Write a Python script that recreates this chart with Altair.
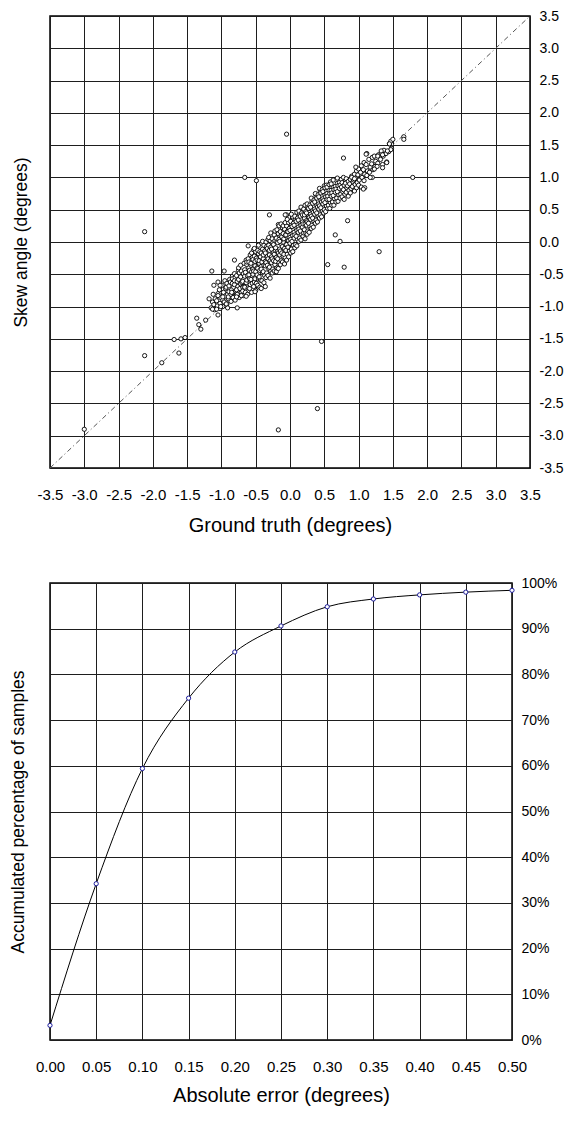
import altair as alt
import pandas as pd

# ---------------- Top panel: skew angle vs ground truth ----------------
# dense cloud (degrees)
cloud_truth = [
    -1.15, -1.13,
    -1.10, -1.09, -1.11,
    -1.06, -1.05, -1.07,
    -1.02, -1.01, -1.03, -1.02,
    -0.98, -0.97, -0.99, -0.98,
    -0.95, -0.94, -0.96, -0.95,
    -0.92, -0.91, -0.93, -0.92, -0.90,
    -0.89, -0.88, -0.90, -0.89,
    -0.86, -0.85, -0.87, -0.86, -0.84,
    -0.83, -0.82, -0.84, -0.83, -0.81, -0.84,
    -0.80, -0.79, -0.81, -0.80, -0.78, -0.81,
    -0.77, -0.76, -0.78, -0.77, -0.75, -0.78,
    -0.74, -0.73, -0.75, -0.74, -0.72, -0.75,
    -0.71, -0.70, -0.72, -0.71, -0.69, -0.72,
    -0.68, -0.67, -0.69, -0.68, -0.66, -0.69, -0.67,
    -0.65, -0.64, -0.66, -0.65, -0.63, -0.66, -0.64,
    -0.62, -0.61, -0.63, -0.62, -0.60, -0.63, -0.61,
    -0.59, -0.58, -0.60, -0.59, -0.57, -0.60, -0.58, -0.59,
    -0.56, -0.55, -0.57, -0.56, -0.54, -0.57, -0.55, -0.56,
    -0.53, -0.52, -0.54, -0.53, -0.51, -0.54, -0.52, -0.53,
    -0.50, -0.49, -0.51, -0.50, -0.48, -0.51, -0.49, -0.50, -0.52,
    -0.47, -0.46, -0.48, -0.47, -0.45, -0.48, -0.46, -0.47,
    -0.44, -0.43, -0.45, -0.44, -0.42, -0.45, -0.43, -0.44, -0.46,
    -0.41, -0.40, -0.42, -0.41, -0.39, -0.42, -0.40, -0.41,
    -0.38, -0.37, -0.39, -0.38, -0.36, -0.39, -0.37, -0.38, -0.40,
    -0.35, -0.34, -0.36, -0.35, -0.33, -0.36, -0.34, -0.35,
    -0.32, -0.31, -0.33, -0.32, -0.30, -0.33, -0.31, -0.32,
    -0.29, -0.28, -0.30, -0.29, -0.27, -0.30, -0.28, -0.29, -0.31,
    -0.26, -0.25, -0.27, -0.26, -0.24, -0.27, -0.25, -0.26, -0.28,
    -0.23, -0.22, -0.24, -0.23, -0.21, -0.24, -0.22, -0.23,
    -0.20, -0.19, -0.21, -0.20, -0.18, -0.21, -0.19, -0.20, -0.22,
    -0.17, -0.16, -0.18, -0.17, -0.15, -0.18, -0.16, -0.17, -0.19, -0.17,
    -0.14, -0.13, -0.15, -0.14, -0.12, -0.15, -0.13, -0.14, -0.16,
    -0.11, -0.10, -0.12, -0.11, -0.09, -0.12, -0.10, -0.11, -0.13,
    -0.08, -0.07, -0.09, -0.08, -0.06, -0.09, -0.07, -0.08, -0.10,
    -0.05, -0.04, -0.06, -0.05, -0.03, -0.06, -0.04, -0.05, -0.07, -0.05,
    -0.02, -0.01, -0.03, -0.02, 0.00, -0.03, -0.01, -0.02, -0.04,
    0.01, 0.02, 0.00, 0.01, 0.03, 0.00, 0.02, 0.01,
    0.04, 0.05, 0.03, 0.04, 0.06, 0.03, 0.05, 0.04, 0.02,
    0.07, 0.08, 0.06, 0.07, 0.09, 0.06, 0.08, 0.07,
    0.10, 0.11, 0.09, 0.10, 0.12, 0.09, 0.11, 0.10,
    0.13, 0.14, 0.12, 0.13, 0.15, 0.12, 0.14, 0.13,
    0.16, 0.17, 0.15, 0.16, 0.18, 0.15, 0.17, 0.16,
    0.19, 0.20, 0.18, 0.19, 0.21, 0.18, 0.20,
    0.22, 0.23, 0.21, 0.22, 0.24, 0.21, 0.23, 0.22,
    0.25, 0.26, 0.24, 0.25, 0.27, 0.24, 0.26, 0.25,
    0.28, 0.29, 0.27, 0.28, 0.30, 0.27, 0.29,
    0.31, 0.32, 0.30, 0.31, 0.33, 0.30, 0.32, 0.31,
    0.34, 0.35, 0.33, 0.34, 0.36, 0.33, 0.35,
    0.37, 0.38, 0.36, 0.37, 0.39, 0.36, 0.38, 0.37,
    0.40, 0.41, 0.39, 0.40, 0.42, 0.39, 0.41,
    0.43, 0.44, 0.42, 0.43, 0.45, 0.42, 0.44, 0.43,
    0.46, 0.47, 0.45, 0.46, 0.48, 0.45, 0.47,
    0.49, 0.50, 0.48, 0.49, 0.51, 0.48, 0.50,
    0.52, 0.53, 0.51, 0.52, 0.54, 0.51, 0.53,
    0.55, 0.56, 0.54, 0.55, 0.57, 0.54,
    0.58, 0.59, 0.57, 0.58, 0.60, 0.57, 0.59,
    0.61, 0.62, 0.60, 0.61, 0.63, 0.60,
    0.64, 0.65, 0.63, 0.64, 0.66, 0.63,
    0.67, 0.68, 0.66, 0.67, 0.69,
    0.70, 0.71, 0.69, 0.70, 0.72, 0.69,
    0.73, 0.74, 0.72, 0.73, 0.75,
    0.76, 0.77, 0.75, 0.76,
    0.79, 0.80, 0.78, 0.79, 0.81, 0.78,
    0.82, 0.83, 0.81, 0.82,
    0.85, 0.86, 0.84, 0.85,
    0.88, 0.89, 0.87, 0.88, 0.90,
    0.91, 0.92, 0.90,
    0.94, 0.95, 0.93, 0.94,
    0.97, 0.98, 0.96, 0.97,
    1.00, 1.01, 0.99, 1.00,
    1.04, 1.05, 1.03, 1.04,
    1.08, 1.09, 1.07, 1.08,
    1.12, 1.13, 1.11, 1.12,
    1.16, 1.17, 1.15,
    1.20, 1.21, 1.19, 1.20,
    1.24, 1.25, 1.23,
    1.28, 1.29, 1.27,
    1.32, 1.33,
    1.36, 1.37, 1.35,
    1.40, 1.41,
    1.44, 1.45,
    1.48, 1.47,
]
cloud_skew = [
    -1.02, -0.93,
    -1.05, -0.88, -0.97,
    -0.99, -0.80, -0.91,
    -1.03, -0.86, -0.74, -0.95,
    -0.90, -0.78, -0.67, -1.00,
    -0.84, -0.72, -0.93, -0.60,
    -0.96, -0.81, -0.70, -0.64, -0.88,
    -0.77, -0.58, -0.85, -0.68,
    -0.92, -0.74, -0.62, -0.81, -0.53,
    -0.86, -0.70, -0.57, -0.78, -0.49, -0.64,
    -0.90, -0.76, -0.66, -0.55, -0.83, -0.60,
    -0.81, -0.69, -0.52, -0.61, -0.44, -0.74,
    -0.86, -0.72, -0.58, -0.48, -0.65, -0.40,
    -0.78, -0.63, -0.54, -0.45, -0.70, -0.36,
    -0.83, -0.69, -0.61, -0.49, -0.43, -0.76, -0.33,
    -0.78, -0.63, -0.53, -0.47, -0.35, -0.70, -0.28,
    -0.81, -0.71, -0.59, -0.52, -0.40, -0.31, -0.26,
    -0.72, -0.66, -0.51, -0.44, -0.36, -0.31, -0.20, -0.57,
    -0.78, -0.64, -0.58, -0.46, -0.42, -0.33, -0.24, -0.17,
    -0.69, -0.62, -0.50, -0.45, -0.37, -0.27, -0.22, -0.12,
    -0.75, -0.64, -0.57, -0.46, -0.40, -0.30, -0.25, -0.15, -0.10,
    -0.67, -0.56, -0.51, -0.41, -0.33, -0.28, -0.18, -0.13,
    -0.70, -0.59, -0.54, -0.44, -0.38, -0.29, -0.23, -0.15, -0.05,
    -0.60, -0.48, -0.42, -0.31, -0.26, -0.17, -0.11, -0.02,
    -0.63, -0.52, -0.46, -0.36, -0.30, -0.20, -0.14, -0.05, 0.01,
    -0.55, -0.48, -0.37, -0.32, -0.22, -0.17, -0.07, 0.00,
    -0.52, -0.41, -0.36, -0.26, -0.20, -0.10, -0.05, 0.04,
    -0.56, -0.45, -0.39, -0.29, -0.23, -0.13, -0.08, 0.02, 0.07,
    -0.48, -0.42, -0.32, -0.26, -0.16, -0.11, -0.01, 0.05, 0.14,
    -0.45, -0.35, -0.29, -0.19, -0.13, -0.04, 0.02, 0.11,
    -0.46, -0.40, -0.30, -0.24, -0.14, -0.09, 0.01, 0.06, 0.17,
    -0.41, -0.32, -0.26, -0.17, -0.11, -0.01, 0.04, 0.13, 0.19, 0.27,
    -0.35, -0.29, -0.20, -0.14, -0.04, 0.01, 0.10, 0.16, 0.25,
    -0.31, -0.22, -0.17, -0.07, -0.01, 0.08, 0.13, 0.22, 0.28,
    -0.34, -0.24, -0.19, -0.10, -0.04, 0.05, 0.10, 0.20, 0.25,
    -0.28, -0.19, -0.13, -0.04, 0.02, 0.11, 0.16, 0.25, 0.30, 0.42,
    -0.23, -0.14, -0.08, 0.02, 0.07, 0.16, 0.21, 0.30, 0.35,
    -0.17, -0.11, -0.02, 0.04, 0.13, 0.18, 0.27, 0.32,
    -0.15, -0.05, 0.01, 0.10, 0.15, 0.24, 0.29, 0.39, 0.43,
    -0.09, -0.04, 0.06, 0.11, 0.21, 0.26, 0.35, 0.40,
    -0.06, 0.04, 0.09, 0.18, 0.23, 0.32, 0.37, 0.46,
    0.01, 0.06, 0.15, 0.20, 0.29, 0.34, 0.43, 0.48,
    0.03, 0.12, 0.17, 0.26, 0.31, 0.40, 0.45, 0.54,
    0.09, 0.14, 0.23, 0.28, 0.37, 0.42, 0.51,
    0.05, 0.14, 0.19, 0.28, 0.33, 0.42, 0.47, 0.57,
    0.12, 0.17, 0.26, 0.31, 0.40, 0.45, 0.54, 0.59,
    0.15, 0.24, 0.29, 0.38, 0.43, 0.52, 0.57,
    0.21, 0.26, 0.35, 0.40, 0.49, 0.54, 0.63, 0.68,
    0.23, 0.32, 0.37, 0.46, 0.51, 0.60, 0.65,
    0.29, 0.34, 0.43, 0.48, 0.57, 0.62, 0.71, 0.75,
    0.31, 0.40, 0.45, 0.54, 0.59, 0.68, 0.73,
    0.37, 0.42, 0.51, 0.56, 0.65, 0.70, 0.79, 0.83,
    0.39, 0.48, 0.53, 0.62, 0.67, 0.76, 0.81,
    0.45, 0.50, 0.59, 0.64, 0.73, 0.78, 0.87,
    0.47, 0.56, 0.61, 0.70, 0.75, 0.84, 0.88,
    0.52, 0.57, 0.66, 0.71, 0.80, 0.85,
    0.52, 0.61, 0.66, 0.75, 0.80, 0.89, 0.93,
    0.57, 0.62, 0.71, 0.76, 0.85, 0.90,
    0.57, 0.67, 0.72, 0.81, 0.86, 0.96,
    0.62, 0.68, 0.77, 0.82, 0.91,
    0.63, 0.73, 0.78, 0.87, 0.92, 0.99,
    0.68, 0.74, 0.83, 0.88, 0.97,
    0.70, 0.78, 0.85, 0.92,
    0.66, 0.74, 0.81, 0.88, 0.95, 1.00,
    0.77, 0.84, 0.91, 0.98,
    0.71, 0.80, 0.87, 0.94,
    0.76, 0.83, 0.90, 0.97, 1.02,
    0.86, 0.93, 1.00,
    0.79, 0.89, 0.96, 1.05,
    0.84, 0.92, 0.99, 1.10,
    0.88, 0.96, 1.04, 1.13,
    0.85, 1.00, 1.08, 1.18,
    0.95, 1.05, 1.12, 1.23,
    1.03, 1.10, 1.20, 1.37,
    1.08, 1.16, 1.28,
    1.00, 1.12, 1.21, 1.31,
    1.17, 1.25, 1.33,
    1.22, 1.35, 1.17,
    1.28, 1.38,
    1.33, 1.42, 1.20,
    1.37, 1.24,
    1.40, 1.52,
    1.45, 1.56,
]

# scattered samples and outliers
sparse_truth = [
    -0.05, -0.66, -0.49, 1.79, -2.12, 1.30, 0.55, 0.79, 0.84, 0.66,
    0.73, 0.78, 1.66, 1.66, 1.50, -0.30, -0.07, -0.61, -0.81, -1.14,
    -0.96, 0.46, 0.40, -0.17, -3.00, -2.12, -1.87, -1.62, -1.69, -1.59,
    -1.53, -1.36, -1.33, -1.30, -1.23, -1.13, -1.07, -1.05, -1.01, -0.91,
    -0.77, -1.18, -1.12, -1.05, -0.98, -0.93, -0.85, -0.78, -0.71, -0.64,
    -0.51, -0.42, -0.36, -1.11, -1.02, -1.05, 1.09, 1.17, 1.07, 1.45,
    1.47, 1.42, 1.33, 1.35, 1.28, 1.11, 1.23, 1.41, 1.35, 0.96, 0.94,
]
sparse_skew = [
    1.67, 1.00, 0.95, 1.00, 0.16, -0.15, -0.35, -0.39, 0.33, 0.11,
    0.01, 1.30, 1.63, 1.59, 1.59, 0.42, 0.42, -0.06, -0.28, -0.45,
    -0.45, -1.54, -2.58, -2.91, -2.90, -1.76, -1.87, -1.72, -1.51, -1.50,
    -1.48, -1.18, -1.28, -1.35, -1.21, -1.04, -1.04, -1.13, -1.00, -1.02,
    -1.02, -0.88, -0.81, -0.83, -0.85, -0.96, -0.78, -0.85, -0.83, -0.84,
    -0.77, -0.72, -0.69, -0.67, -0.67, -0.62, 0.84, 1.00, 0.82, 1.52,
    1.43, 1.41, 1.41, 1.35, 1.33, 1.36, 1.13, 1.23, 1.15, 1.16, 0.98,
]

diag_ends = [-3.5, 3.5]
deg_ticks = [-3.5, -3.0, -2.5, -2.0, -1.5, -1.0, -0.5, 0.0, 0.5, 1.0, 1.5, 2.0, 2.5, 3.0, 3.5]

# ---------------- Bottom panel: cumulative error ----------------
abs_error = [0.00, 0.05, 0.10, 0.15, 0.20, 0.25, 0.30, 0.35, 0.40, 0.45, 0.50]
accum_pct = [3.2, 34.2, 59.4, 74.8, 84.9, 90.6, 94.8, 96.5, 97.4, 98.0, 98.4]
err_ticks = [0.00, 0.05, 0.10, 0.15, 0.20, 0.25, 0.30, 0.35, 0.40, 0.45, 0.50]
pct_ticks = [0, 10, 20, 30, 40, 50, 60, 70, 80, 90, 100]

FONT = "Liberation Sans"
GRID = "#1e1e1e"
MINUS = "\u2212"

def num_label(fmt):
    return "replace(format(datum.value, '" + fmt + "'), '" + MINUS + "', '-')"

pts_df = pd.DataFrame({
    "truth": cloud_truth + sparse_truth,
    "skew": cloud_skew + sparse_skew,
})
diag_df = pd.DataFrame({"truth": diag_ends, "skew": diag_ends})

xs = alt.Scale(domain=[-3.5, 3.5], nice=False, zero=False)
ys = alt.Scale(domain=[-3.5, 3.5], nice=False, zero=False)

common = dict(ticks=False, domain=False, labelOverlap=False, labelFlush=False)

x_axis_top = alt.Axis(values=deg_ticks, labelExpr=num_label(".1f"),
                      title="Ground truth (degrees)", grid=True,
                      labelPadding=19, titlePadding=13, titleFontSize=20,
                      **common)
y_axis_right = alt.Axis(values=deg_ticks, labelExpr=num_label(".1f"),
                        orient="right", title=None, grid=True,
                        labelPadding=9, labelFontSize=14, **common)
y_axis_left = alt.Axis(orient="left", title="Skew angle (degrees)", labels=False,
                       grid=False, titlePadding=20, titleFontSize=17.5, **common)

diag = alt.Chart(diag_df).mark_line(
    color="#555555", strokeWidth=1, strokeDash=[5, 3, 1, 3]
).encode(
    x=alt.X("truth:Q", scale=xs, axis=x_axis_top),
    y=alt.Y("skew:Q", scale=ys, axis=y_axis_left),
)

pts = alt.Chart(pts_df).mark_point(
    shape="circle", filled=True, fill="white", stroke="black",
    strokeWidth=0.9, size=18, opacity=1
).encode(
    x=alt.X("truth:Q", scale=xs, axis=x_axis_top),
    y=alt.Y("skew:Q", scale=ys, axis=y_axis_right),
)

top = alt.layer(diag, pts).resolve_axis(y="independent").properties(width=480, height=452)

cdf_df = pd.DataFrame({"err": abs_error, "pct": accum_pct})
ex = alt.Scale(domain=[0, 0.5], nice=False, zero=False)
ey = alt.Scale(domain=[0, 100], nice=False, zero=False)

x_axis_bot = alt.Axis(values=err_ticks, format=".2f", title="Absolute error (degrees)",
                      grid=True, labelPadding=19, titlePadding=11, titleFontSize=20,
                      **common)
y_axis_bot_right = alt.Axis(values=pct_ticks, orient="right", title=None,
                            labelExpr="datum.value + '%'",
                            grid=True, labelPadding=9, labelFontSize=14, **common)
y_axis_bot_left = alt.Axis(orient="left", title="Accumulated percentage of samples",
                           labels=False, grid=False, titlePadding=23,
                           titleFontSize=17.5, **common)

cdf_line = alt.Chart(cdf_df).mark_line(
    color="black", strokeWidth=1, interpolate="monotone"
).encode(
    x=alt.X("err:Q", scale=ex, axis=x_axis_bot),
    y=alt.Y("pct:Q", scale=ey, axis=y_axis_bot_left),
)
cdf_pts = alt.Chart(cdf_df).mark_point(
    shape="circle", filled=True, fill="white", stroke="#1c1c9c",
    strokeWidth=1, size=18, opacity=1
).encode(
    x=alt.X("err:Q", scale=ex, axis=x_axis_bot),
    y=alt.Y("pct:Q", scale=ey, axis=y_axis_bot_right),
)

bottom = alt.layer(cdf_line, cdf_pts).resolve_axis(y="independent").properties(width=462, height=457)

chart = alt.vconcat(top, bottom, spacing=39).properties(
    padding=0,
    autosize=alt.AutoSizeParams(type="pad"),
).configure(
    padding=0
).configure_view(
    stroke="black", strokeWidth=1.5
).configure_axis(
    labelFont=FONT, labelFontSize=15, labelColor="black",
    titleFont=FONT, titleFontWeight="normal", titleColor="black",
    gridColor=GRID, gridOpacity=1, gridWidth=1,
)

chart.save("out.html", embed_options={"renderer": "svg", "actions": False})
